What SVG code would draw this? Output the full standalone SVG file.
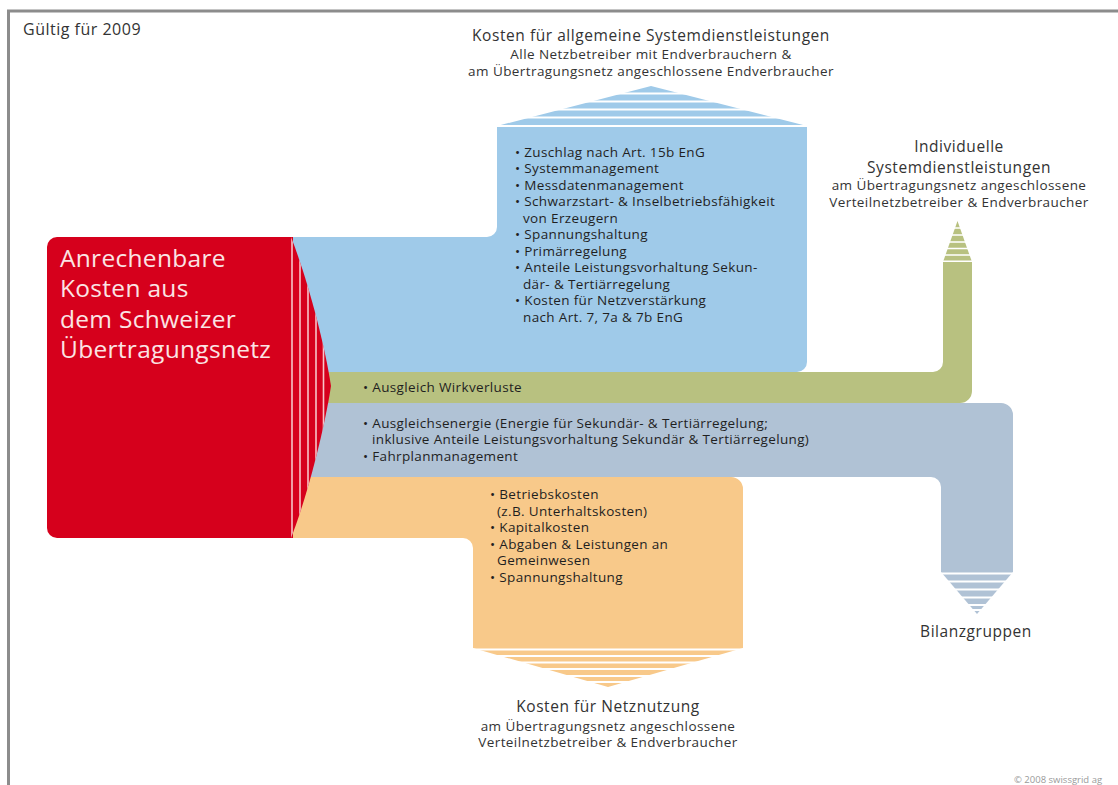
<svg xmlns="http://www.w3.org/2000/svg" width="1118" height="785" viewBox="0 0 1118 785">
<style>
text{font-family:"Open Sans","DejaVu Sans",sans-serif;fill:#2b2b2b}
.t15{font-size:15.5px;letter-spacing:0.55px;fill:#333}
.t13{font-size:13.5px;letter-spacing:0.42px;fill:#333}
.b{font-size:13.5px;letter-spacing:0.35px;fill:#1f1f1f}
.red-t{font-size:24.5px;letter-spacing:0.3px;fill:#fbe4e4}
.gap{stroke:#fff;fill:none}
.red{fill:#d6001c}
</style>
<defs>
<clipPath id="arrowClip"><path d="M291,237 C306,275 324,340 331,386 C324,432 306,500 291,538 Z"/></clipPath>
</defs>
<rect x="0" y="0" width="1118" height="785" fill="#fff"/>
<rect x="8.5" y="11" width="1200" height="900" fill="none" stroke="#8c8c8c" stroke-width="3"/>
<text x="23" y="35" style="font-size:16px;letter-spacing:0.5px;fill:#333">Gültig für 2009</text>

<g id="connectors">
  <!-- blue flow -->
  <path d="M292,237 H487 A10,10 0 0 0 497,227 V127 H807 V362 A10,10 0 0 1 797,372 H292 Z" fill="#9fcae9"/>
  <path d="M497,126 L651,86 L807,126 Z" fill="#9fcae9"/>
  <g class="gap" stroke-width="2"><path d="M480,93.5H820M480,101.5H820M480,109.5H820M480,117.5H820M480,126H820"/></g>
  <!-- green flow -->
  <path d="M292,372 H933 A10,10 0 0 0 943,362 V262 H972 V391 A12,12 0 0 1 960,403 H292 Z" fill="#b8c180"/>
  <path d="M943,262 L957.5,221 L972,262 Z" fill="#b8c180"/>
  <g class="gap" stroke-width="1.6"><path d="M935,228H980M935,235H980M935,242H980M935,248.5H980M935,255H980M935,261.2H980"/></g>
  <!-- grey flow -->
  <path d="M292,403 H1001 A12,12 0 0 1 1013,415 V572 H941 V487 A10,10 0 0 0 931,477 H292 Z" fill="#b0c2d5"/>
  <path d="M941,572 L977,614 L1013,572 Z" fill="#b0c2d5"/>
  <g class="gap" stroke-width="2"><path d="M935,573.5H1020M935,581.5H1020M935,589.5H1020M935,597.5H1020M935,605H1020M935,610H1020"/></g>
  <!-- orange flow -->
  <path d="M292,477 H731 A12,12 0 0 1 743,489 V648 H473 V548 A10,10 0 0 0 463,538 H292 Z" fill="#f8c98a"/>
  <path d="M473,648 L608,687 L743,648 Z" fill="#f8c98a"/>
  <g class="gap" stroke-width="2"><path d="M465,649.5H750M465,656H750M465,662.5H750M465,669H750M465,676H750M465,682H750"/></g>
</g>

<g id="node-source">
  <path class="red" d="M57,237 H293 V538 H57 A10,10 0 0 1 47,528 V247 A10,10 0 0 1 57,237 Z"/>
  <path class="red" d="M291,237 C306,275 324,340 331,386 C324,432 306,500 291,538 Z"/>
  <g clip-path="url(#arrowClip)" class="gap" stroke-width="1.6">
    <path d="M292,230V545M300,230V545M308,230V545M316,230V545M323.5,230V545" stroke="#f7c4c8"/>
  </g>
  <text class="red-t" x="60" y="267">Anrechenbare</text>
  <text class="red-t" x="60" y="297">Kosten aus</text>
  <text class="red-t" x="60" y="328">dem Schweizer</text>
  <text class="red-t" x="60" y="358">Übertragungsnetz</text>
</g>

<g id="node-allgemeine">
  <text class="t15" x="651" y="41" text-anchor="middle">Kosten für allgemeine Systemdienstleistungen</text>
  <text class="t13" x="651" y="58.5" text-anchor="middle">Alle Netzbetreiber mit Endverbrauchern &amp;</text>
  <text class="t13" x="651" y="75.5" text-anchor="middle">am Übertragungsnetz angeschlossene Endverbraucher</text>
  <text class="b" x="515">
    <tspan x="515" y="156.5">• Zuschlag nach Art. 15b EnG</tspan>
    <tspan x="515" y="173">• Systemmanagement</tspan>
    <tspan x="515" y="189.5">• Messdatenmanagement</tspan>
    <tspan x="515" y="206">• Schwarzstart- &amp; Inselbetriebsfähigkeit</tspan>
    <tspan x="523" y="222.5">von Erzeugern</tspan>
    <tspan x="515" y="239">• Spannungshaltung</tspan>
    <tspan x="515" y="255.5">• Primärregelung</tspan>
    <tspan x="515" y="272">• Anteile Leistungsvorhaltung Sekun-</tspan>
    <tspan x="523" y="288.5">där- &amp; Tertiärregelung</tspan>
    <tspan x="515" y="305">• Kosten für Netzverstärkung</tspan>
    <tspan x="523" y="321.5">nach Art. 7, 7a &amp; 7b EnG</tspan>
  </text>
</g>

<g id="node-individuelle">
  <text class="t15" x="959" y="151.5" text-anchor="middle">Individuelle</text>
  <text class="t15" x="959" y="172.5" text-anchor="middle">Systemdienstleistungen</text>
  <text class="t13" x="959" y="190" text-anchor="middle">am Übertragungsnetz angeschlossene</text>
  <text class="t13" x="959" y="206.5" text-anchor="middle">Verteilnetzbetreiber &amp; Endverbraucher</text>
  <text class="b" x="363" y="392">• Ausgleich Wirkverluste</text>
</g>

<g id="node-bilanzgruppen">
  <text class="t15" x="976" y="637" text-anchor="middle">Bilanzgruppen</text>
  <text class="b" x="363">
    <tspan x="363" y="427.5">• Ausgleichsenergie (Energie für Sekundär- &amp; Tertiärregelung;</tspan>
    <tspan x="372" y="444">inklusive Anteile Leistungsvorhaltung Sekundär &amp; Tertiärregelung)</tspan>
    <tspan x="363" y="460.5">• Fahrplanmanagement</tspan>
  </text>
</g>

<g id="node-netznutzung">
  <text class="b" x="490">
    <tspan x="490" y="499">• Betriebskosten</tspan>
    <tspan x="497" y="515.5">(z.B. Unterhaltskosten)</tspan>
    <tspan x="490" y="532">• Kapitalkosten</tspan>
    <tspan x="490" y="548.5">• Abgaben &amp; Leistungen an</tspan>
    <tspan x="497" y="565">Gemeinwesen</tspan>
    <tspan x="490" y="581.5">• Spannungshaltung</tspan>
  </text>
  <text class="t15" x="608" y="712" text-anchor="middle">Kosten für Netznutzung</text>
  <text class="t13" x="608" y="730.5" text-anchor="middle">am Übertragungsnetz angeschlossene</text>
  <text class="t13" x="608" y="747" text-anchor="middle">Verteilnetzbetreiber &amp; Endverbraucher</text>
</g>

<text x="1014" y="783" style="font-size:9.5px;fill:#9a9a9a">© 2008 swissgrid ag</text>
</svg>
